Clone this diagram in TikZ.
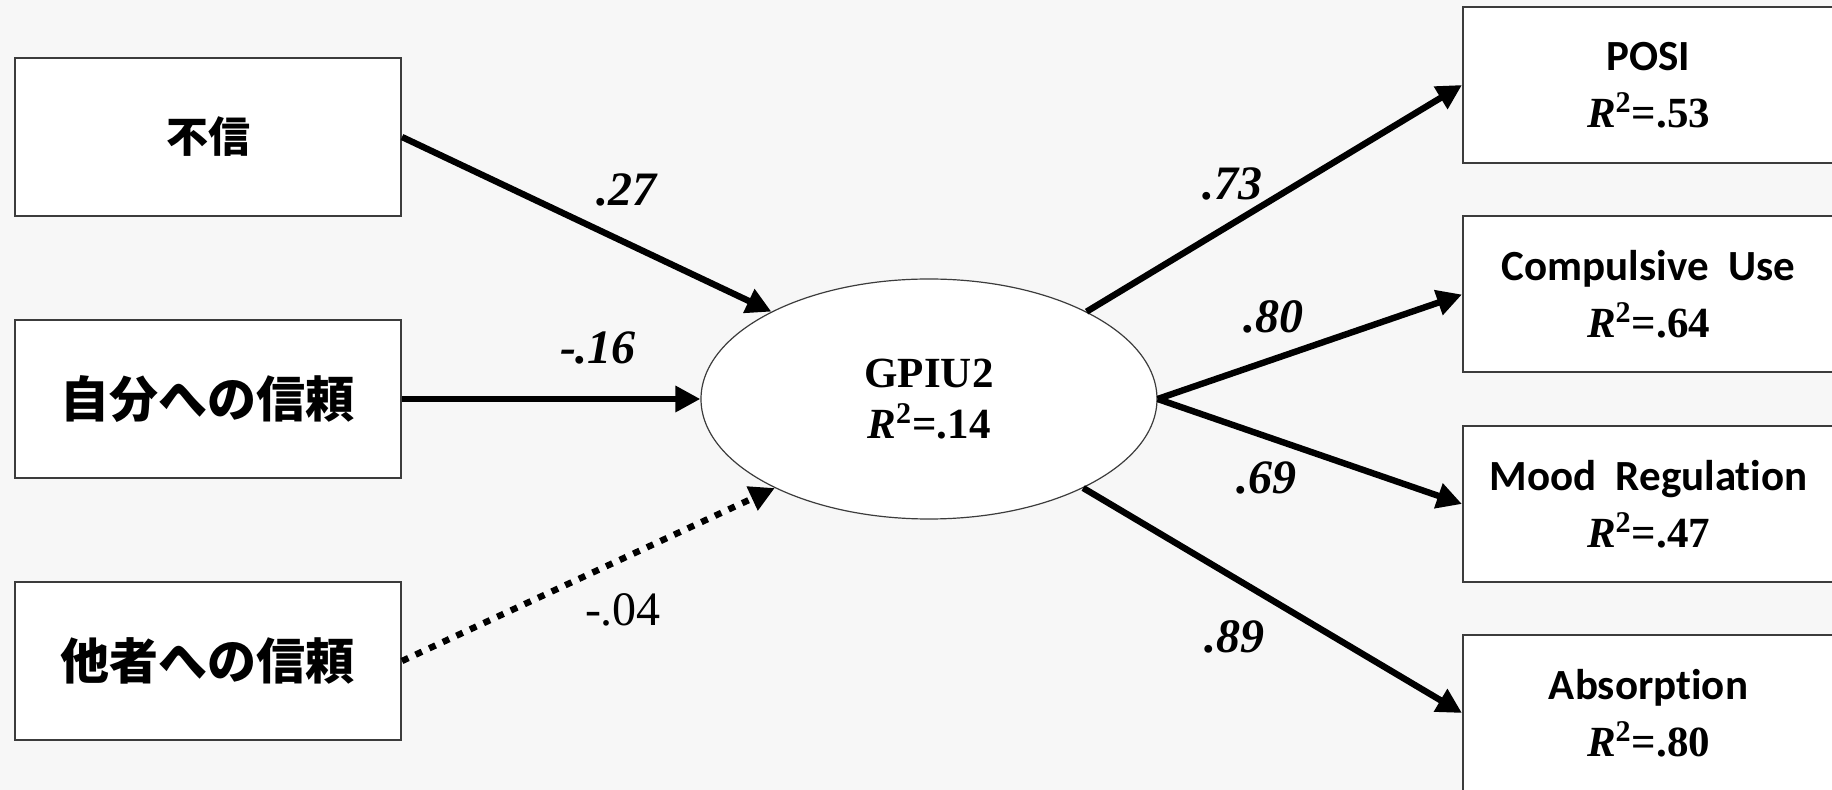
\documentclass[tikz,border=0pt]{standalone}
\usepackage{fontspec}
\setmainfont{Liberation Serif}
\newfontfamily\cjkfont{Noto Sans CJK JP}
\newfontfamily\calfont{Carlito}[Ligatures=NoCommon]
\usetikzlibrary{arrows.meta,shapes.geometric}
\definecolor{bggray}{HTML}{F7F7F7}
\definecolor{boxgray}{HTML}{3C3C3C}
\newcommand\rsq[1]{\textit{R}\textsuperscript{2}=#1}
\begin{document}
\begin{tikzpicture}[x=0.5pt,y=-0.5pt,
  lbox/.style={draw=boxgray, line width=1pt, fill=white, minimum width=193pt, minimum height=79pt, inner sep=0pt, align=center, font=\cjkfont\bfseries},
  rbox/.style={draw=boxgray, line width=1pt, fill=white, minimum width=185.5pt, minimum height=78pt, inner sep=0pt, align=center, font=\fontsize{21.5}{28.5}\selectfont\bfseries},
  latent/.style={ellipse, draw=boxgray, line width=0.6pt, fill=white, minimum width=228pt, minimum height=120pt, inner sep=0pt, align=center, font=\fontsize{21.5}{25.5}\selectfont\bfseries},
  arr/.style={line width=3.2pt, -{Triangle[length=12.5pt,width=12.5pt]}},
  dotarr/.style={line width=3.2pt, dash pattern=on 3.5pt off 4pt, -{Triangle[length=12.5pt,width=12.5pt]}},
  coef/.style={font=\fontsize{24}{28}\selectfont\bfseries\itshape, inner sep=0pt},
  coefn/.style={font=\fontsize{24}{28}\selectfont, inner sep=0pt}
]
\clip (0,0) rectangle (1832,790);
\fill[bggray] (0,0) rectangle (1832,790);

% left boxes
\node[lbox] (fushin) at (208,137) {\fontsize{21}{25}\selectfont 不信};
\node[lbox] (jibun) at (208,399) {\fontsize{24.5}{28}\selectfont 自分への信頼};
\node[lbox] (tasha) at (208,661) {\fontsize{24.5}{28}\selectfont 他者への信頼};

% latent
\node[latent] (g) at (929,399) {GPIU2\\\rsq{.14}};

% right boxes
\node[rbox] (posi) at (1648.5,85) {{\calfont POSI}\\\rsq{.53}};
\node[rbox] (comp) at (1648.5,294.5) {{\calfont Compulsive\hspace{0.45em}Use}\\\rsq{.64}};
\node[rbox] (mood) at (1648.5,504) {{\calfont Mood\hspace{0.45em}Regulation}\\\rsq{.47}};
\node[rbox] (abs) at (1648.5,713) {{\calfont Absorption}\\\rsq{.80}};

% paths
\draw[arr] (fushin.east) -- (g.151);
\draw[arr] (jibun.east) -- (g.west);
\draw[dotarr] (tasha.east) -- (g.210);
\draw[arr] (g.29) -- (posi.west);
\draw[arr] (g.east) -- (comp.west);
\draw[arr] (g.east) -- (mood.west);
\draw[arr] (g.330) -- (abs.west);

% coefficients
\node[coef] (c1) at (626,190) {.27};
\node[coef] (c2) at (598,348) {-.16};
\node[coefn] (c3) at (623,610) {-.04};
\node[coef] (c4) at (1232,184) {.73};
\node[coef] (c5) at (1273,317) {.80};
\node[coef] (c6) at (1266,478) {.69};
\node[coef] (c7) at (1234,637) {.89};
\end{tikzpicture}
\end{document}
